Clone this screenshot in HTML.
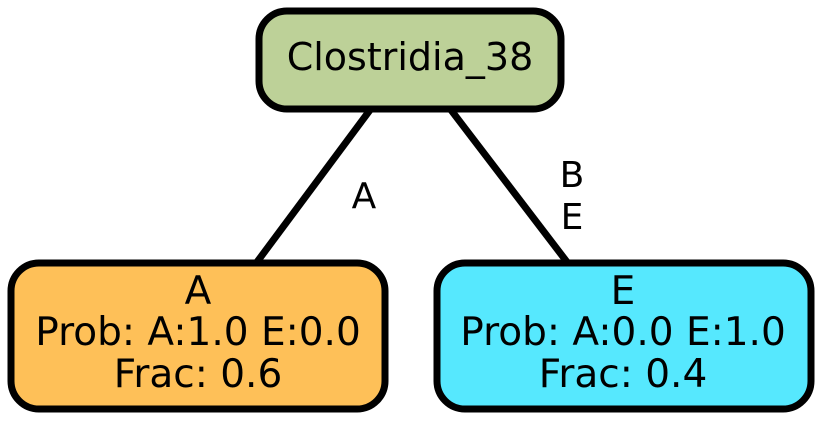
<!DOCTYPE html>
<html><head><style>html,body{margin:0;padding:0;background:#fff;}</style></head>
<body>
<svg width="822" height="421" viewBox="0 0 822 421" xmlns="http://www.w3.org/2000/svg" font-family="'DejaVu Sans', 'Liberation Sans', sans-serif">
<rect width="822" height="421" fill="#fff"/>
<line x1="370" y1="110" x2="257" y2="262" stroke="#000" stroke-width="7"/>
<line x1="451" y1="110" x2="567" y2="262" stroke="#000" stroke-width="7"/>
<text x="364" y="208" font-size="36" text-anchor="middle">A</text>
<text x="572" y="187" font-size="36" text-anchor="middle">B</text>
<text x="572" y="229" font-size="36" text-anchor="middle">E</text>
<rect x="259" y="11" width="302" height="98" rx="28" fill="#bdd198" stroke="#000" stroke-width="7"/>
<text x="410" y="70" font-size="38" text-anchor="middle">Clostridia_38</text>
<rect x="11" y="263" width="374" height="146" rx="28" fill="#fec058" stroke="#000" stroke-width="7"/>
<text x="198" y="304" font-size="39" text-anchor="middle">A</text>
<text x="198" y="345" font-size="39" text-anchor="middle">Prob: A:1.0 E:0.0</text>
<text x="198" y="387" font-size="39" text-anchor="middle">Frac: 0.6</text>
<rect x="437" y="263" width="374" height="146" rx="28" fill="#56e8fe" stroke="#000" stroke-width="7"/>
<text x="623" y="304" font-size="39" text-anchor="middle">E</text>
<text x="623" y="345" font-size="39" text-anchor="middle">Prob: A:0.0 E:1.0</text>
<text x="623" y="387" font-size="39" text-anchor="middle">Frac: 0.4</text>
</svg>
</body></html>
